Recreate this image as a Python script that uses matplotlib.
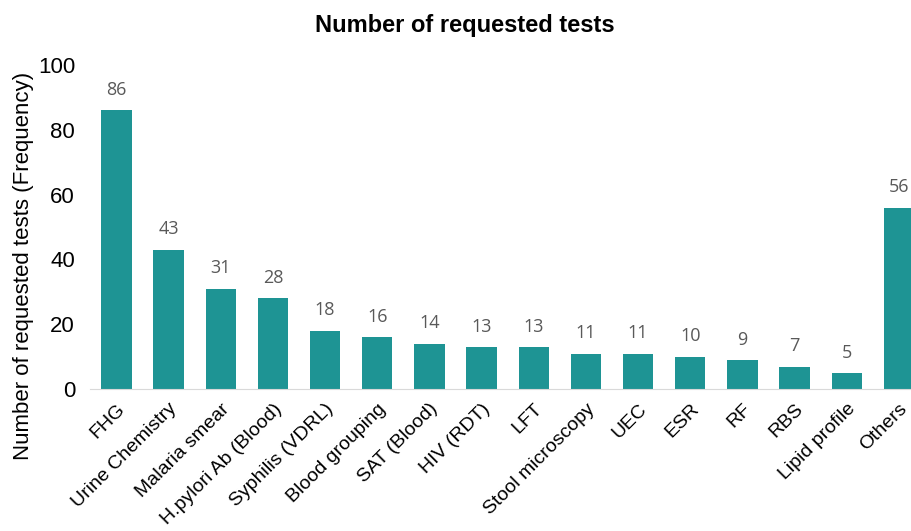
import matplotlib.pyplot as plt

tests = ['FHG', 'Urine Chemistry', 'Malaria smear', 'H.pylori Ab (Blood)',
         'Syphilis (VDRL)', 'Blood grouping', 'SAT (Blood)', 'HIV (RDT)', 'LFT',
         'Stool microscopy', 'UEC', 'ESR', 'RF', 'RBS', 'Lipid profile', 'Others']
counts = [86, 43, 31, 28, 18, 16, 14, 13, 13, 11, 11, 10, 9, 7, 5, 56]

fig = plt.figure(figsize=(9.12, 5.31), dpi=100)
ax = fig.add_axes([0.099, 0.267, 0.901, 0.611])

x = range(len(tests))
bars = ax.bar(x, counts, width=0.58, color='#1e9494')

# value labels above bars
for b, v in zip(bars, counts):
    ax.text(b.get_x() + b.get_width() / 2, v + 3.5, str(v), ha='center', va='bottom',
            fontsize=13, color='#595959', family='Open Sans')

ax.set_ylim(0, 100)
ax.set_xlim(-0.5, 15.25)
ax.set_yticks(range(0, 101, 20))
ax.set_xticks(list(x))
ax.set_xticklabels(tests, rotation=45, ha='right', rotation_mode='anchor',
                   fontsize=14, family='Liberation Sans')
for lab in ax.get_yticklabels():
    lab.set_family('Liberation Sans')
    lab.set_fontsize(16)

ax.tick_params(axis='both', length=0)
ax.tick_params(axis='y', pad=11)
ax.tick_params(axis='x', pad=8)
for s in ['top', 'right', 'left']:
    ax.spines[s].set_visible(False)
ax.spines['bottom'].set_color('#d9d9d9')

ax.set_ylabel('Number of requested tests (Frequency)', fontsize=16,
              family='Liberation Sans')
ax.yaxis.set_label_coords(-0.069, 0.38)
fig.text(0.51, 0.952, 'Number of requested tests', ha='center', va='center',
         fontsize=17, fontweight='bold', family='Liberation Sans')

plt.savefig('out.png', dpi=100)
